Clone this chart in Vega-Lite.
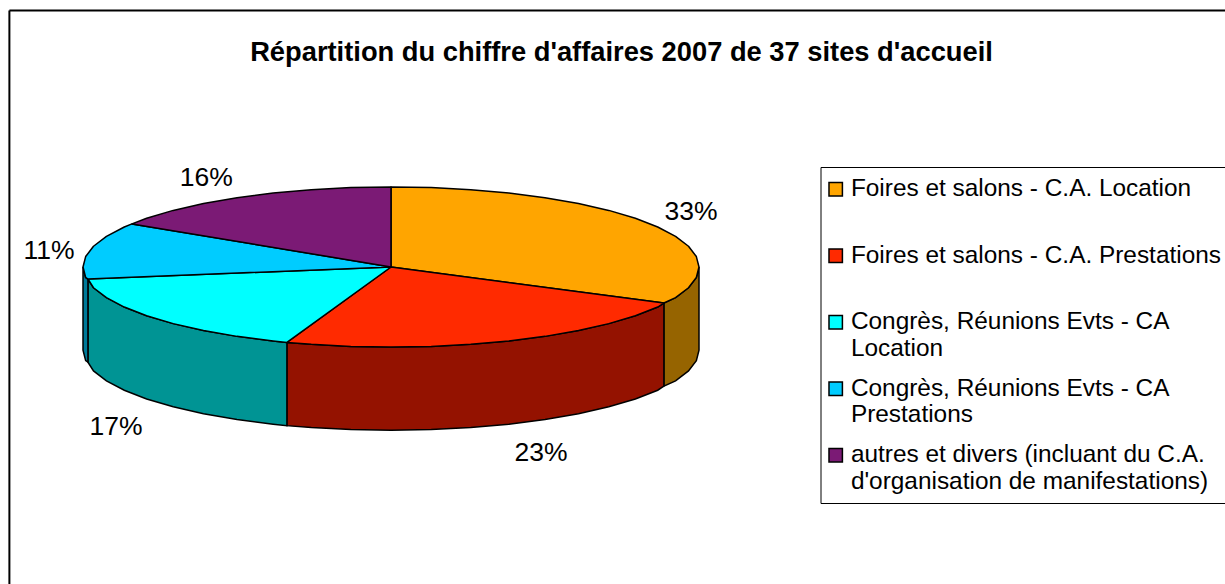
{
"$schema":"https://vega.github.io/schema/vega-lite/v6.json",
"width":1225,"height":584,"padding":0,"autosize":{"type":"none"},
"background":"white",
"config":{"view":{"stroke":null},"font":"Liberation Sans"},
"title":{"text":"Répartition du chiffre d'affaires 2007 de 37 sites d'accueil","font":"Liberation Sans","fontSize":27.3,"fontWeight":"bold","color":"black","anchor":"middle","dx":9,"offset":-66},
"datasets":{
"slices":[
{"s":"A","poste":"Foires et salons - C.A. Location","part":0.33,"lx":97.4,"ly":17.9},
{"s":"B","poste":"Foires et salons - C.A. Prestations","part":0.23,"lx":48.7,"ly":-60.3},
{"s":"C","poste":"Congrès, Réunions Evts - CA Location","part":0.17,"lx":-89.3,"ly":-51.9},
{"s":"D","poste":"Congrès, Réunions Evts - CA Prestations","part":0.11,"lx":-111,"ly":5.2},
{"s":"E","poste":"autres et divers (incluant du C.A. d'organisation de manifestations)","part":0.16,"lx":-60,"ly":28.9}
],
"walls":[
{"s":"A","x":100,"y":0,"y2":-27},{"s":"A","x":99.14,"y":-3.39,"y2":-30.39},{"s":"A","x":96.59,"y":-6.73,"y2":-33.73},{"s":"A","x":92.39,"y":-9.95,"y2":-36.95},{"s":"A","x":88.6,"y":-11.7,"y2":-38.7},
{"s":"B","x":88.6,"y":-11.7,"y2":-38.7},{"s":"B","x":86.6,"y":-13,"y2":-40},{"s":"B","x":79.34,"y":-15.83,"y2":-42.83},{"s":"B","x":70.71,"y":-18.38,"y2":-45.38},{"s":"B","x":60.88,"y":-20.63,"y2":-47.63},{"s":"B","x":50,"y":-22.52,"y2":-49.52},{"s":"B","x":38.27,"y":-24.02,"y2":-51.02},{"s":"B","x":25.88,"y":-25.11,"y2":-52.11},{"s":"B","x":13.05,"y":-25.78,"y2":-52.78},{"s":"B","x":0,"y":-26,"y2":-53},{"s":"B","x":-13.05,"y":-25.78,"y2":-52.78},{"s":"B","x":-25.88,"y":-25.11,"y2":-52.11},{"s":"B","x":-33.8,"y":-24.5,"y2":-51.5},
{"s":"C","x":-33.8,"y":-24.5,"y2":-51.5},{"s":"C","x":-38.27,"y":-24.02,"y2":-51.02},{"s":"C","x":-50,"y":-22.52,"y2":-49.52},{"s":"C","x":-60.88,"y":-20.63,"y2":-47.63},{"s":"C","x":-70.71,"y":-18.38,"y2":-45.38},{"s":"C","x":-79.34,"y":-15.83,"y2":-42.83},{"s":"C","x":-86.6,"y":-13,"y2":-40},{"s":"C","x":-92.39,"y":-9.95,"y2":-36.95},{"s":"C","x":-96.59,"y":-6.73,"y2":-33.73},{"s":"C","x":-98.4,"y":-3.9,"y2":-30.9},
{"s":"D","x":-98.4,"y":-3.9,"y2":-30.9},{"s":"D","x":-99.14,"y":-3.39,"y2":-30.39},{"s":"D","x":-100,"y":0,"y2":-27}
],
"tops":[
{"s":"A","i":0,"x":0,"y":0},{"s":"A","i":1,"x":0,"y":26},{"s":"A","i":2,"x":13.05,"y":25.78},{"s":"A","i":3,"x":25.88,"y":25.11},{"s":"A","i":4,"x":38.27,"y":24.02},{"s":"A","i":5,"x":50,"y":22.52},{"s":"A","i":6,"x":60.88,"y":20.63},{"s":"A","i":7,"x":70.71,"y":18.38},{"s":"A","i":8,"x":79.34,"y":15.83},{"s":"A","i":9,"x":86.6,"y":13},{"s":"A","i":10,"x":92.39,"y":9.95},{"s":"A","i":11,"x":96.59,"y":6.73},{"s":"A","i":12,"x":99.14,"y":3.39},{"s":"A","i":13,"x":100,"y":0},{"s":"A","i":14,"x":99.14,"y":-3.39},{"s":"A","i":15,"x":96.59,"y":-6.73},{"s":"A","i":16,"x":92.39,"y":-9.95},{"s":"A","i":17,"x":88.6,"y":-11.7},{"s":"A","i":18,"x":0,"y":0},
{"s":"B","i":0,"x":0,"y":0},{"s":"B","i":1,"x":88.6,"y":-11.7},{"s":"B","i":2,"x":86.6,"y":-13},{"s":"B","i":3,"x":79.34,"y":-15.83},{"s":"B","i":4,"x":70.71,"y":-18.38},{"s":"B","i":5,"x":60.88,"y":-20.63},{"s":"B","i":6,"x":50,"y":-22.52},{"s":"B","i":7,"x":38.27,"y":-24.02},{"s":"B","i":8,"x":25.88,"y":-25.11},{"s":"B","i":9,"x":13.05,"y":-25.78},{"s":"B","i":10,"x":0,"y":-26},{"s":"B","i":11,"x":-13.05,"y":-25.78},{"s":"B","i":12,"x":-25.88,"y":-25.11},{"s":"B","i":13,"x":-33.8,"y":-24.5},{"s":"B","i":14,"x":0,"y":0},
{"s":"C","i":0,"x":0,"y":0},{"s":"C","i":1,"x":-33.8,"y":-24.5},{"s":"C","i":2,"x":-38.27,"y":-24.02},{"s":"C","i":3,"x":-50,"y":-22.52},{"s":"C","i":4,"x":-60.88,"y":-20.63},{"s":"C","i":5,"x":-70.71,"y":-18.38},{"s":"C","i":6,"x":-79.34,"y":-15.83},{"s":"C","i":7,"x":-86.6,"y":-13},{"s":"C","i":8,"x":-92.39,"y":-9.95},{"s":"C","i":9,"x":-96.59,"y":-6.73},{"s":"C","i":10,"x":-98.4,"y":-3.9},{"s":"C","i":11,"x":0,"y":0},
{"s":"D","i":0,"x":0,"y":0},{"s":"D","i":1,"x":-98.4,"y":-3.9},{"s":"D","i":2,"x":-99.14,"y":-3.39},{"s":"D","i":3,"x":-100,"y":0},{"s":"D","i":4,"x":-99.14,"y":3.39},{"s":"D","i":5,"x":-96.59,"y":6.73},{"s":"D","i":6,"x":-92.39,"y":9.95},{"s":"D","i":7,"x":-86.6,"y":13},{"s":"D","i":8,"x":-84.1,"y":14},{"s":"D","i":9,"x":0,"y":0},
{"s":"E","i":0,"x":0,"y":0},{"s":"E","i":1,"x":-84.1,"y":14},{"s":"E","i":2,"x":-79.34,"y":15.83},{"s":"E","i":3,"x":-70.71,"y":18.38},{"s":"E","i":4,"x":-60.88,"y":20.63},{"s":"E","i":5,"x":-50,"y":22.52},{"s":"E","i":6,"x":-38.27,"y":24.02},{"s":"E","i":7,"x":-25.88,"y":25.11},{"s":"E","i":8,"x":-13.05,"y":25.78},{"s":"E","i":9,"x":0,"y":26},{"s":"E","i":10,"x":0,"y":0}
]
},
"resolve":{"scale":{"fill":"independent"}},
"layer":[
{"data":{"name":"walls"},
 "mark":{"type":"area","stroke":"black","strokeWidth":1.5,"interpolate":"linear"},
 "encoding":{
  "x":{"field":"x","type":"quantitative","axis":null,"scale":{"domain":[-126.95,270.78],"nice":false,"zero":false}},
  "y":{"field":"y","type":"quantitative","axis":null,"scale":{"domain":[-102.92,86.69],"nice":false,"zero":false}},
  "y2":{"field":"y2"},
  "fill":{"field":"s","type":"nominal","legend":null,"scale":{"domain":["A","B","C","D"],"range":["#966400","#941200","#009494","#007a99"]}}
 }},
{"data":{"name":"tops"},
 "transform":[{"lookup":"s","from":{"data":{"name":"slices"},"key":"s","fields":["poste"]}}],
 "mark":{"type":"line","stroke":"black","strokeWidth":1.5,"strokeJoin":"round"},
 "encoding":{
  "x":{"field":"x","type":"quantitative","axis":null,"scale":{"domain":[-126.95,270.78],"nice":false,"zero":false}},
  "y":{"field":"y","type":"quantitative","axis":null,"scale":{"domain":[-102.92,86.69],"nice":false,"zero":false}},
  "order":{"field":"i","type":"quantitative"},
  "fill":{"field":"poste","type":"nominal",
   "scale":{"domain":["Foires et salons - C.A. Location","Foires et salons - C.A. Prestations","Congrès, Réunions Evts - CA Location","Congrès, Réunions Evts - CA Prestations","autres et divers (incluant du C.A. d'organisation de manifestations)"],
    "range":["#ffa500","#ff2a00","#00ffff","#00ccff","#7b1a75"]},
   "legend":{"title":null,"orient":"none","legendX":820.5,"legendY":167,"strokeColor":"black","padding":10,"columns":1,"gridAlign":"all","rowPadding":15.5,
    "symbolType":"square","symbolSize":180,"symbolOffset":-7,"symbolStrokeColor":"black","symbolStrokeWidth":1.5,"labelFontSize":24.4,"labelFont":"Liberation Sans","labelColor":"black","labelLimit":500,"labelOffset":3,
    "labelExpr":"indexof(datum.label,'CA Location')>0 ? ['Congrès, Réunions Evts - CA','Location'] : indexof(datum.label,'CA Prestations')>0 ? ['Congrès, Réunions Evts - CA','Prestations'] : indexof(datum.label,'autres')==0 ? ['autres et divers (incluant du C.A.','d\\'organisation de manifestations)'] : datum.label"}}
 }},
{"data":{"name":"slices"},
 "mark":{"type":"text","fontSize":26.5,"font":"Liberation Sans","color":"black"},
 "encoding":{
  "x":{"field":"lx","type":"quantitative","axis":null,"scale":{"domain":[-126.95,270.78],"nice":false,"zero":false}},
  "y":{"field":"ly","type":"quantitative","axis":null,"scale":{"domain":[-102.92,86.69],"nice":false,"zero":false}},
  "text":{"field":"part","type":"quantitative","format":".0%"}
 }},
{"data":{"values":[{}]},"mark":{"type":"rule","color":"black","strokeWidth":2},
 "encoding":{"x":{"datum":-123.9,"scale":{"domain":[-126.95,270.78],"nice":false,"zero":false},"axis":null},"y":{"datum":83.3,"scale":{"domain":[-102.92,86.69],"nice":false,"zero":false},"axis":null},"y2":{"datum":-102.92}}},
{"data":{"values":[{}]},"mark":{"type":"rule","color":"black","strokeWidth":2},
 "encoding":{"x":{"datum":-123.9,"scale":{"domain":[-126.95,270.78],"nice":false,"zero":false},"axis":null},"x2":{"datum":270.78},"y":{"datum":83.3,"scale":{"domain":[-102.92,86.69],"nice":false,"zero":false},"axis":null}}}
]
}
